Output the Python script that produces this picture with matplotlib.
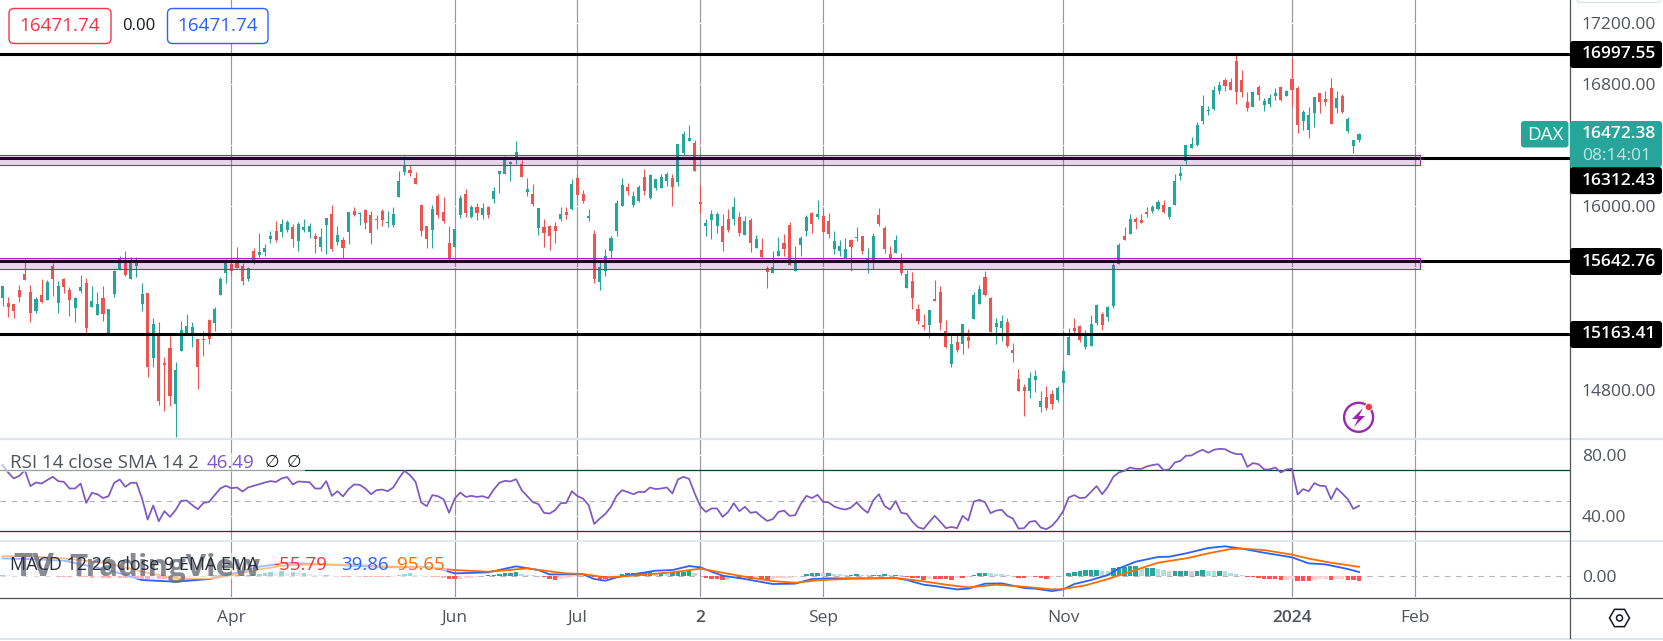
import numpy as np
import matplotlib
matplotlib.use("Agg")
import matplotlib.pyplot as plt
from matplotlib.patches import FancyBboxPatch, Rectangle, Circle, RegularPolygon, Polygon

plt.rcParams['font.family'] = ['Open Sans', 'DejaVu Sans']

# daily candles
opens = [15400,15367,15360,15452,15557,15439,15315,15419,15387,15609,
    15367,15524,15452,15334,15445,15498,15341,15288,15400,15162,
    15426,15583,15631,15524,15609,15360,15432,15007,15151,14975,
    15073,14706,15053,15164,15164,15132,15132,15256,15236,15419,
    15563,15622,15629,15609,15523,15707,15680,15700,15785,15837,
    15831,15844,15864,15772,15844,15831,15805,15733,15877,15949,
    15765,15779,15831,15968,15949,15975,15942,15916,15968,15890,
    15877,16060,16223,16236,16184,16008,15870,15844,16066,15962,
    15759,15733,15942,16079,15930,15995,15943,15995,16047,16211,
    16211,16274,16320,16274,16093,16080,15858,15864,15871,15871,
    15917,15962,15982,16185,16080,15923,15818,15504,15576,15707,
    15838,16002,16126,16008,16034,16191,16054,16119,16119,16165,
    16185,16159,16348,16427,16414,16028,15871,15910,15871,15871,
    15916,15916,15929,15812,15910,15727,15714,15596,15563,15674,
    15759,15877,15576,15746,15838,15956,15930,15936,15903,15720,
    15707,15661,15779,15792,15805,15642,15648,15943,15858,15688,
    15694,15629,15465,15511,15328,15223,15223,15393,15439,15184,
    14968,15112,15099,15145,15262,15360,15537,15400,15210,15203,
    15243,15060,14870,14818,14791,14863,14687,14752,14772,14733,
    14844,15027,15203,15217,15079,15086,15236,15294,15275,15347,
    15621,15805,15818,15916,15909,15961,15968,15981,16007,15929,
    16007,16197,16295,16380,16400,16557,16622,16635,16753,16825,
    16812,16949,16825,16681,16648,16779,16661,16668,16720,16779,
    16720,16831,16772,16557,16498,16609,16740,16701,16772,16642,
    16720,16491,16393,16432]
closes = [15478,15341,15315,15406,15517,15302,15393,15373,15504,15524,
    15478,15472,15387,15400,15472,15203,15380,15360,15295,15328,
    15576,15657,15550,15631,15642,15426,14948,15230,14726,14961,
    14759,14929,15190,15217,15210,14948,15125,15132,15328,15524,
    15629,15576,15596,15510,15595,15648,15700,15726,15805,15779,
    15883,15896,15785,15883,15864,15870,15785,15798,15922,15720,
    15811,15726,15962,15942,15955,15890,15824,15909,15909,15896,
    15949,16164,16269,16217,16145,15837,15785,15981,15942,15903,
    15659,15851,16053,15955,15995,15956,15988,15943,16100,16230,
    16302,16289,16355,16191,16113,16015,15988,15825,15805,15838,
    15949,15943,16145,16073,16034,15936,15524,15603,15675,15792,
    16021,16139,16100,16067,16126,16100,16204,16178,16191,16211,
    16126,16407,16472,16446,16230,16015,15890,15949,15949,15766,
    15844,15995,15825,15903,15759,15786,15668,15570,15603,15707,
    15720,15616,15629,15792,15930,15884,15949,15831,15818,15773,
    15740,15720,15733,15799,15707,15655,15805,15884,15720,15655,
    15779,15563,15557,15400,15249,15210,15321,15380,15236,15079,
    15099,15060,15230,15118,15419,15459,15419,15177,15236,15249,
    15086,15040,14791,14791,14876,14890,14726,14680,14706,14811,
    14922,15145,15184,15125,15164,15230,15353,15222,15340,15615,
    15746,15778,15916,15896,15890,15948,15994,16027,15961,15994,
    16164,16217,16400,16406,16530,16655,16629,16759,16792,16786,
    16759,16746,16746,16642,16746,16727,16687,16707,16740,16694,
    16753,16759,16530,16616,16596,16714,16681,16681,16537,16707,
    16616,16570,16432,16472]
highs = [15478,15406,15360,15485,15657,15485,15406,15524,15517,15631,
    15511,15530,15472,15406,15550,15530,15478,15439,15478,15328,
    15583,15674,15707,15668,15668,15498,15432,15269,15243,15014,
    15151,14981,15249,15295,15243,15132,15184,15262,15341,15537,
    15655,15629,15733,15628,15602,15726,15824,15752,15837,15903,
    15916,15909,15883,15896,15916,15890,15824,15857,15922,16008,
    15870,15798,15962,15994,15962,15981,15968,15942,15981,15968,
    15994,16230,16328,16269,16223,16014,15870,16008,16079,16060,
    15870,15851,16073,16112,16008,16021,16021,16002,16126,16230,
    16329,16296,16427,16302,16185,16145,15988,15917,15877,15897,
    15995,15995,16178,16211,16106,15982,15845,15648,15720,15805,
    16041,16185,16152,16100,16139,16244,16211,16178,16211,16224,
    16211,16407,16492,16531,16433,16139,15916,15975,15962,15949,
    15982,16060,15962,15936,15923,15812,15792,15609,15707,15799,
    15818,15897,15740,15805,15943,15962,16041,15988,15956,15838,
    15779,15792,15786,15864,15805,15727,15825,15988,15871,15740,
    15812,15694,15583,15570,15360,15295,15321,15517,15478,15256,
    15158,15158,15230,15197,15439,15485,15576,15406,15269,15288,
    15269,15105,14935,14837,14916,14929,14791,14824,14798,14824,
    14948,15203,15269,15223,15190,15288,15360,15307,15347,15626,
    15759,15863,15948,15929,15948,15994,16007,16040,16040,15994,
    16210,16262,16400,16452,16550,16727,16655,16786,16818,16838,
    16838,16986,16890,16746,16753,16792,16707,16733,16772,16786,
    16759,16969,16786,16629,16648,16714,16740,16753,16838,16753,
    16733,16583,16432,16478]
lows = [15347,15275,15269,15373,15517,15243,15302,15367,15387,15413,
    15302,15432,15282,15243,15432,15169,15341,15288,15249,15160,
    15406,15583,15544,15524,15537,15315,14883,14948,14700,14661,
    14693,14493,15053,15164,15079,14805,15020,15099,15184,15419,
    15498,15550,15596,15484,15510,15622,15667,15674,15759,15766,
    15798,15831,15733,15707,15831,15792,15694,15707,15687,15707,
    15746,15659,15752,15936,15877,15851,15752,15851,15870,15864,
    15864,16060,16204,16197,16145,15805,15726,15726,15922,15890,
    15648,15733,15922,15929,15923,15910,15917,15923,16021,16087,
    16211,16165,16276,16191,16067,16002,15812,15733,15714,15760,
    15903,15917,15975,16041,16021,15903,15498,15452,15544,15662,
    15805,16002,16073,15995,16028,16073,16047,16106,16119,16132,
    16002,16132,16335,16427,16230,15956,15805,15786,15825,15707,
    15831,15877,15805,15812,15701,15727,15661,15465,15563,15674,
    15674,15616,15576,15674,15805,15825,15916,15831,15792,15688,
    15674,15661,15576,15773,15688,15563,15589,15871,15694,15648,
    15694,15550,15465,15328,15230,15190,15138,15380,15190,15073,
    14948,15047,15033,15073,15262,15360,15413,15177,15099,15118,
    15079,14981,14791,14628,14746,14785,14654,14667,14674,14720,
    14785,15027,15171,15112,15066,15086,15222,15190,15249,15334,
    15621,15778,15818,15850,15890,15929,15955,15975,15955,15916,
    16007,16171,16275,16380,16393,16537,16596,16629,16733,16753,
    16759,16668,16714,16622,16648,16694,16622,16648,16694,16687,
    16720,16648,16478,16498,16445,16517,16609,16655,16537,16609,
    16609,16478,16347,16419]

rsi = [73.6,68.7,64.7,66.4,70.2,59.6,62.0,61.3,63.6,65.8,
    62.9,62.4,58.0,58.0,61.3,48.4,55.1,54.2,51.6,52.9,
    61.8,64.0,59.1,61.8,61.8,51.3,37.3,46.7,36.2,42.9,
    39.1,43.6,49.8,50.0,46.9,44.2,48.4,49.1,53.6,58.0,
    59.8,58.2,58.7,56.0,58.7,59.8,60.9,62.0,62.9,62.4,
    64.7,65.6,60.7,62.7,62.4,62.2,58.0,58.0,62.9,53.1,
    56.2,52.7,57.6,60.7,60.4,58.0,54.2,56.9,57.3,56.2,
    58.7,64.7,69.8,66.9,62.4,48.7,46.2,53.6,52.9,50.9,
    41.8,51.3,55.3,52.4,53.1,52.4,52.9,51.6,57.3,61.8,
    63.1,62.7,64.2,56.9,52.9,48.9,47.6,41.8,41.3,43.6,
    48.2,48.4,56.2,52.9,51.3,46.9,34.4,38.0,41.1,45.8,
    53.1,56.9,55.6,54.2,55.8,55.6,58.7,57.6,58.0,58.7,
    54.7,64.0,65.8,64.4,54.7,46.2,42.4,44.7,44.7,39.1,
    42.4,48.2,42.9,45.8,41.8,42.4,39.1,36.4,37.6,42.4,
    43.3,39.8,40.2,47.6,53.1,51.6,53.8,49.1,48.7,46.0,
    44.7,44.0,45.3,48.7,44.7,41.8,50.2,54.2,46.4,44.0,
    49.6,41.8,41.1,35.8,32.2,31.1,35.6,39.8,35.8,31.6,
    32.4,31.6,39.8,36.7,49.3,50.4,48.9,41.6,43.3,43.8,
    39.8,38.0,31.3,31.6,35.8,36.4,32.0,30.9,33.1,37.3,
    42.9,52.0,53.6,51.6,52.0,55.8,59.6,54.2,59.1,65.8,
    68.7,69.8,72.0,71.1,71.1,72.7,73.6,74.2,70.2,70.7,
    75.3,76.4,79.8,80.0,82.2,83.8,81.8,83.8,84.4,84.2,
    82.2,80.9,80.9,72.4,74.9,74.2,70.7,70.7,72.0,68.7,
    70.7,71.1,54.0,57.6,56.2,61.6,59.8,59.6,50.9,58.2,
    54.7,50.9,44.4,46.49]

hist = [7,4,0,-4,-4,-7,-7,-4,-4,-7,
    -11,-11,-11,-7,-11,-18,-25,-22,-22,-22,
    -18,-22,-22,-25,-25,-32,-36,-32,-32,-32,
    -29,-29,-22,-18,-14,-11,-7,-4,4,7,
    7,11,11,11,11,22,22,32,40,32,
    47,32,36,29,29,22,11,4,4,-7,
    -7,-11,-11,-7,-7,-11,-11,-14,-18,-18,
    -14,4,18,25,11,4,-7,-18,-18,-29,
    -36,-40,-32,-25,-22,-14,-7,4,7,22,
    25,29,36,22,11,4,-7,-14,-36,-43,
    -32,-29,-14,-7,-7,-7,-18,-32,-36,-29,
    -11,18,29,29,32,32,36,22,25,22,
    29,40,40,50,25,0,-29,-32,-36,-47,
    -43,-18,-40,-25,-40,-36,-36,-43,-32,-29,
    -25,-22,-14,-4,18,29,29,25,29,22,
    18,11,11,14,7,4,11,11,18,7,
    7,4,-11,-22,-29,-43,-32,-36,-36,-40,
    -47,-25,-25,-18,4,29,29,25,18,14,
    11,-7,-22,-29,-14,-18,-25,-32,-18,-7,
    0,25,43,47,58,61,65,54,47,79,
    90,97,101,101,79,79,79,72,61,47,
    47,47,54,47,50,58,50,47,50,47,
    32,22,11,-11,-14,-22,-32,-32,-32,-47,
    -43,-36,-58,-58,-58,-43,-40,-36,-43,-40,
    -36,-43,-43,-56]

macd_bars = [0,6,11,19,25,31,37,41,46,51,64,70,76,79,81,87,92,96,98,101,104,106,108,110,114,117,120,123,125,127,129,133,138,142,145,148,155,160,162,165,167,171,173,176,179,183,185,188,190,192,195,198,200,203,207,209,212,216,219,222,226,231,234,237,241,243]
macd_vals = [187,176,162,61,-47,-65,-36,18,97,140,104,90,97,61,25,36,101,61,14,14,14,-36,-54,-18,25,54,61,104,90,43,0,-36,-90,-86,-36,-29,-29,-25,-47,-97,-112,-148,-140,-86,-83,-133,-140,-166,-148,-90,-47,7,79,151,202,205,241,299,317,292,248,198,133,122,72,39.86]
signal_bars = [0,6,11,19,25,31,37,40,46,51,57,64,70,76,81,87,94,98,101,104,108,112,117,120,125,129,134,138,142,146,152,160,165,169,173,178,183,188,190,194,198,202,207,212,216,220,222,226,231,234,238,243]
signal_vals = [212,205,187,133,43,-29,-36,-4,68,115,122,115,97,90,61,43,79,47,25,18,-18,-4,22,36,76,32,-22,-58,-76,-50,-32,-25,-61,-97,-126,-97,-119,-148,-144,-104,-36,43,140,187,241,288,292,277,227,184,140,95.65]

level_lines = [16997.55, 16312.43, 15642.76, 15163.41]
zones = [(16271, 16333), (15588, 15660)]
zone_end = 254
price_ticks = [17200, 16800, 16000, 14800]
price_grid = [17200, 16800, 16400, 16000, 15600, 15200, 14800]
time_bars = [41, 81, 103, 125, 147, 190, 231, 253]
time_labels = ['Apr', 'Jun', 'Jul', '2', 'Sep', 'Nov', '2024', 'Feb']

UP = '#26A69A'
DOWN = '#EF5350'
GRID = '#9598A1'
TXT = '#50535E'
W, H = 1663, 641
AX_R = 1570


def panel(top, bottom):
    a = fig.add_axes([0, 1 - bottom / H, AX_R / W, (bottom - top) / H])
    a.set_xlim(-0.45, 280.8)
    for s in a.spines.values():
        s.set_visible(False)
    a.tick_params(length=0, labelbottom=False, labelleft=False, labelright=True,
                  right=False, left=False, bottom=False, pad=8.5, labelsize=12.5, labelcolor=TXT)
    a.yaxis.tick_right()
    for b in time_bars:
        a.axvline(b, color=GRID, lw=0.85, zorder=1)
    return a


fig = plt.figure(figsize=(W / 100, H / 100), dpi=100, facecolor='white')

# main price panel
ax = panel(0, 438)
ax.set_ylim(14485, 17348)
ax.set_yticks(price_ticks)
ax.set_yticklabels(['%.2f' % p for p in price_ticks])
for p in price_grid:
    ax.axhline(p, color='white', lw=0.8, zorder=1.5)

bars = np.arange(len(opens))
o = np.array(opens)
c = np.array(closes)
cols = [UP if c[i] >= o[i] else DOWN for i in bars]
ax.vlines(bars, lows, highs, colors=cols, lw=0.8, zorder=2)
ax.bar(bars, np.maximum(np.abs(c - o), 6), bottom=np.minimum(o, c), width=0.55, color=cols, linewidth=0, zorder=2.5)

for lv in level_lines:
    ax.axhline(lv, color='black', lw=2.2, zorder=3)
for lo, hi in zones:
    ax.add_patch(Rectangle((-5, lo), zone_end + 5, hi - lo, facecolor='#9C27B0', alpha=0.2, edgecolor='none', zorder=4))
    ax.add_patch(Rectangle((-5, lo), zone_end + 5, hi - lo, facecolor='none', edgecolor='#9C27B0', lw=0.8, zorder=4))

# RSI panel
ax2 = panel(440, 540)
ax2.set_ylim(23.7, 90.3)
ax2.set_yticks([80, 40])
ax2.set_yticklabels(['80.00', '40.00'])
for p in [80, 40]:
    ax2.axhline(p, color='white', lw=0.8, zorder=1.5)
ax2.axhline(70, color='#0B3B2D', lw=0.9, zorder=2)
ax2.axhline(30, color='#0B3B2D', lw=0.9, zorder=2)
ax2.axhline(50, color='#B2B5BE', lw=0.8, dashes=(5, 5), zorder=2)
ax2.plot(np.arange(len(rsi)), rsi, color='#7E57C2', lw=1.25, zorder=3)

# MACD panel
ax3 = panel(541.5, 597)
ax3.set_ylim(-230, 369)
ax3.set_yticks([0])
ax3.set_yticklabels(['0.00'])
ax3.axhline(0, color='#B2B5BE', lw=0.8, dashes=(5, 5), zorder=1.5)
hcols = []
for i, v in enumerate(hist):
    prev = hist[i - 1] if i else v
    if v >= 0:
        hcols.append('#26A69A' if v >= prev else '#B2DFDB')
    else:
        hcols.append('#FF5252' if v <= prev else '#FFCDD2')
ax3.bar(np.arange(len(hist)), hist, width=0.8, color=hcols, linewidth=0, zorder=2)
ax3.plot(macd_bars, macd_vals, color='#2962FF', lw=1.3, zorder=3)
ax3.plot(signal_bars, signal_vals, color='#FF6D00', lw=1.3, zorder=3.5)
ax3.set_xticks(time_bars)
ax3.set_xticklabels(time_labels)
ax3.tick_params(axis='x', labelbottom=True, pad=9.5, labelsize=12.5, labelcolor=TXT)
for t in ax3.get_xticklabels():
    if t.get_text() in ('2', '2024'):
        t.set_fontweight('semibold')

# overlay in pixels for the chrome of the chart
ov = fig.add_axes([0, 0, 1, 1], facecolor='none')
ov.set_xlim(0, W)
ov.set_ylim(H, 0)
ov.axis('off')
ov.plot([0, W], [438.5, 438.5], color='#E0E3EB', lw=1.6)
ov.plot([0, W], [540.5, 540.5], color='#E0E3EB', lw=1.2)
ov.plot([0, W], [638.5, 638.5], color='#E0E3EB', lw=1.4)
ov.plot([0, W], [597.5, 597.5], color=TXT, lw=0.9)
ov.plot([AX_R, AX_R], [0, 638], color=TXT, lw=0.9)


def box(x0, y0, x1, y1, fc, ec='none', r=3, z=5, lw=1.0):
    ov.add_patch(FancyBboxPatch((x0, y0), x1 - x0, y1 - y0, boxstyle='round,pad=0,rounding_size=%d' % r,
                                fc=fc, ec=ec, lw=lw, zorder=z))


# top-left OHLC chips
box(9, 8.5, 111, 43.5, 'white', '#F23645', r=5)
ov.text(60, 26, '16471.74', color='#F23645', fontsize=13.6, ha='center', va='center', zorder=6)
ov.text(139, 26, '0.00', color='#131722', fontsize=12, ha='center', va='center', zorder=6)
box(167.5, 8.5, 268, 43.5, 'white', '#2962FF', r=5)
ov.text(218, 26, '16471.74', color='#2962FF', fontsize=13.6, ha='center', va='center', zorder=6)

# right column labels
ax_labels = ['16997.55', '16312.43', '15642.76', '15163.41']
ax_centers = [54.5, 180.6, 261.5, 334.5]
for lab, cy in zip(ax_labels, ax_centers):
    box(AX_R, cy - 13.5, W - 1, cy + 13.5, 'black')
    ov.text(1582, cy, lab, color='white', fontsize=12.5, fontweight='semibold', ha='left', va='center', zorder=6)
box(1521, 121, 1568.5, 147.5, UP)
ov.text(1545, 134.5, 'DAX', color='white', fontsize=13.5, ha='center', va='center', zorder=6)
box(AX_R, 121, W - 1, 167, UP)
ov.text(1582, 134.5, '16472.38', color='white', fontsize=12.5, fontweight='semibold', ha='left', va='center', zorder=6)
ov.text(1582, 155.5, '08:14:01', color='#C4E6E2', fontsize=12.5, ha='left', va='center', zorder=6)
box(1577, -10, W - 2, 2.5, 'white', '#E0E3EB')

# watermark and indicator legends
ov.add_patch(Rectangle((0, 553), 447, 26, fc='white', alpha=0.55, ec='none', zorder=4.5))
ov.add_patch(Rectangle((0, 453), 305, 19, fc='white', alpha=0.55, ec='none', zorder=4.5))
ov.text(13, 568, 'TV', color='#6A6D78', fontsize=24, fontweight='bold', ha='left', va='center', alpha=0.8, zorder=4.8)
ov.text(69, 568, 'TradingView', color='#6A6D78', fontsize=22.5, fontweight='bold', ha='left', va='center', alpha=0.8, zorder=4.8)
ov.text(10.5, 463, 'RSI 14 close SMA 14 2', color=TXT, fontsize=13.5, ha='left', va='center', zorder=6)
ov.text(207, 463, '46.49', color='#7E57C2', fontsize=13.5, ha='left', va='center', zorder=6)
ov.text(265, 463, '\u2205', color='#131722', fontsize=12, ha='left', va='center', zorder=6)
ov.text(287, 463, '\u2205', color='#131722', fontsize=12, ha='left', va='center', zorder=6)
ov.text(10, 565, 'MACD 12 26 close 9 EMA EMA', color='#2A2E39', fontsize=13, ha='left', va='center', zorder=6)
ov.text(273, 565, '-55.79', color='#F23645', fontsize=13.5, ha='left', va='center', zorder=6)
ov.text(341, 565, '39.86', color='#2962FF', fontsize=13.5, ha='left', va='center', zorder=6)
ov.text(397, 565, '95.65', color='#FF6D00', fontsize=13.5, ha='left', va='center', zorder=6)

# lightning badge
ov.add_patch(Circle((1358.6, 417.3), 14.5, fc='white', ec='#9C27B0', lw=1.7, zorder=5))
ov.add_patch(Polygon([(1363, 408), (1352, 419), (1358, 419), (1354, 427), (1365, 416), (1359, 416)],
                     fc='#9C27B0', ec='none', zorder=6))
ov.add_patch(Circle((1368.8, 407), 3.6, fc='#F23645', ec='white', lw=0.6, zorder=6))

# settings gear
ov.add_patch(RegularPolygon((1619.5, 618), 6, radius=10, orientation=np.pi / 6, fc='white', ec='#131722', lw=1.1, zorder=5))
ov.add_patch(Circle((1619.5, 618), 3, fc='white', ec='#131722', lw=1.1, zorder=6))

fig.savefig('out.png', dpi=100)
